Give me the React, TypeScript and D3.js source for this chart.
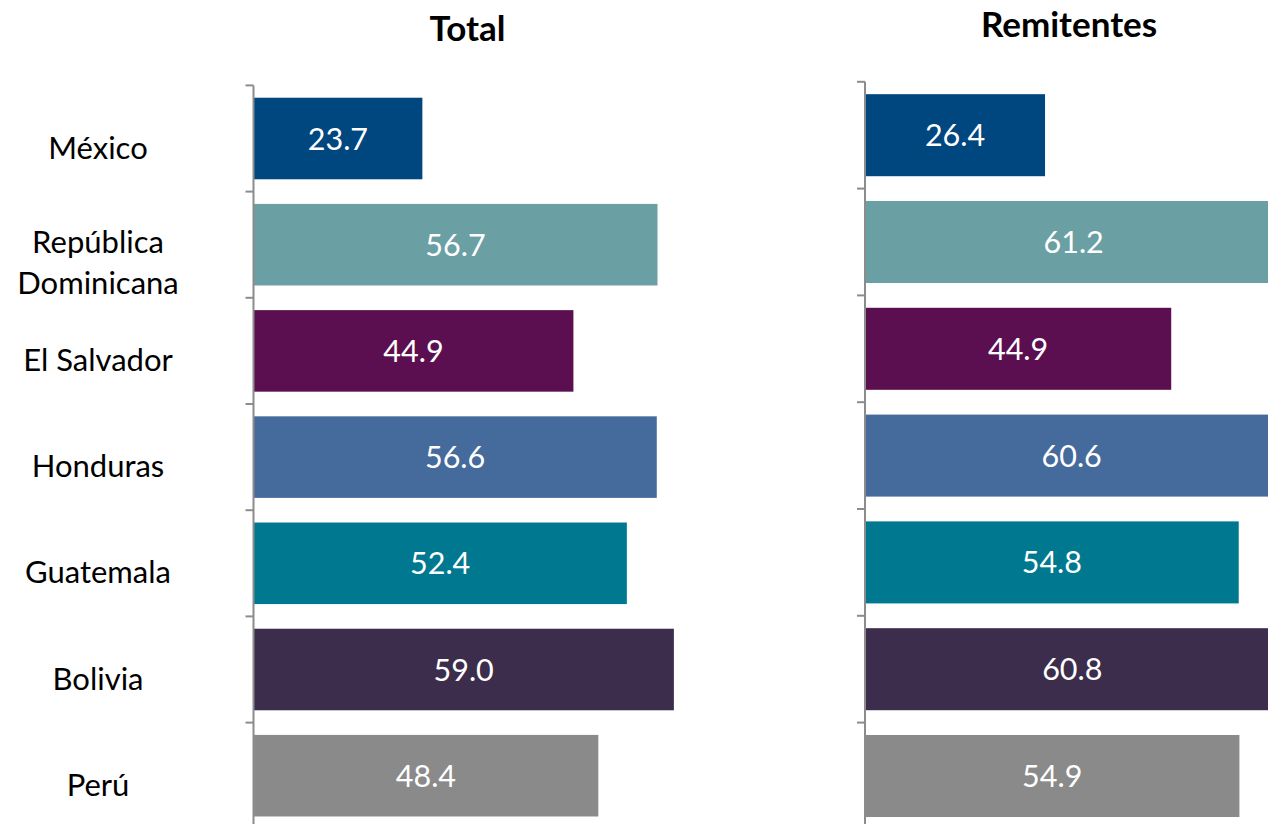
import React from "react";
import * as d3 from "d3";

const categories = ["México", "República\nDominicana", "El Salvador", "Honduras", "Guatemala", "Bolivia", "Perú"];
const totalValues = [23.7, 56.7, 44.9, 56.6, 52.4, 59.0, 48.4];
const remitentesValues = [26.4, 61.2, 44.9, 60.6, 54.8, 60.8, 54.9];
const barColors = ["#00467F", "#6A9FA3", "#5B0F51", "#456B9C", "#00788F", "#3C2D4D", "#8A8A8A"];
const panelTitles = ["Total", "Remitentes"];

const FONT = "Lato, 'Open Sans', 'Liberation Sans', sans-serif";
const W = 1268;
const H = 824;

type PanelProps = {
  values: number[];
  title: string;
  x0: number;
  pxPerUnit: number;
  yTop: number;
  yBottom: number;
  titleX: number;
  titleY: number;
  showCats: boolean;
};

function Panel({ values, title, x0, pxPerUnit, yTop, yBottom, titleX, titleY, showCats }: PanelProps) {
  const x = d3.scaleLinear().domain([0, 60]).range([x0, x0 + 60 * pxPerUnit]);
  const y = d3
    .scaleBand<string>()
    .domain(categories)
    .range([yTop, yBottom])
    .paddingInner(0.232)
    .paddingOuter(0.116);
  const step = y.step();
  const ticks = d3.range(categories.length).map((i) => yTop + i * step);
  return (
    <g>
      <text x={titleX} y={titleY} textAnchor="middle" fontFamily={FONT} fontWeight="bold" fontSize={35} fill="#000">
        {title}
      </text>
      {categories.map((c, i) => {
        const by = y(c) as number;
        const bh = y.bandwidth();
        const v = values[i];
        const cx = (x(0) + x(v)) / 2;
        return (
          <g key={c}>
            <rect x={x(0)} y={by} width={x(v) - x(0)} height={bh} fill={barColors[i]} />
            <text x={cx} y={by + bh / 2 + 11} textAnchor="middle" fontFamily={FONT} fontSize={30.5} fill="#fff">
              {d3.format(".1f")(v)}
            </text>
          </g>
        );
      })}
      <line x1={x(0)} x2={x(0)} y1={yTop} y2={H + 5} stroke="#8C8C8C" strokeWidth={2} />
      {ticks.map((t, i) => (
        <line key={i} x1={x(0) - 8} x2={x(0)} y1={t} y2={t} stroke="#8C8C8C" strokeWidth={2} />
      ))}
      {showCats &&
        categories.map((c) => {
          const lines = c.split("\n");
          const center = (y(c) as number) + y.bandwidth() / 2;
          const first = lines.length > 1 ? center + 8.5 : center + 20;
          return (
            <text key={c} textAnchor="middle" fontFamily={FONT} fontSize={31} fill="#000">
              {lines.map((l, k) => (
                <tspan key={k} x={98} y={first + k * 41}>
                  {l}
                </tspan>
              ))}
            </text>
          );
        })}
    </g>
  );
}

export default function App() {
  return (
    <svg width={W} height={H} style={{ position: "absolute", left: 0, top: 0, background: "#fff" }}>
      <rect width={W} height={H} fill="#fff" />
      <Panel
        values={totalValues}
        title={panelTitles[0]}
        x0={253.5}
        pxPerUnit={7.125}
        yTop={85.4}
        yBottom={828.8}
        titleX={467.5}
        titleY={41}
        showCats={true}
      />
      <Panel
        values={remitentesValues}
        title={panelTitles[1]}
        x0={865}
        pxPerUnit={6.82}
        yTop={81.8}
        yBottom={829.4}
        titleX={1069}
        titleY={37}
        showCats={false}
      />
    </svg>
  );
}
